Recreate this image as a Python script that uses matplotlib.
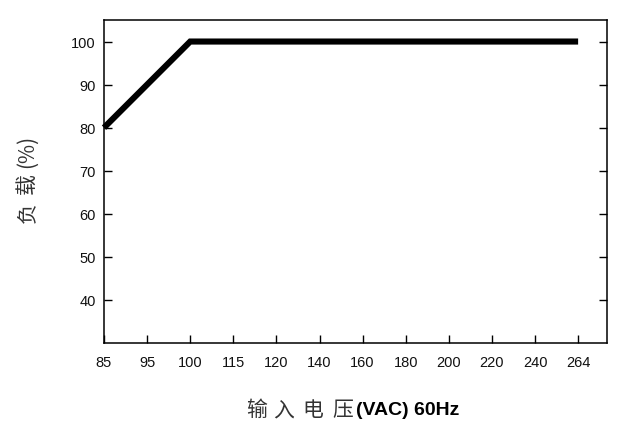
import matplotlib
matplotlib.use("Agg")
import matplotlib.pyplot as plt

x_labels = ["85", "95", "100", "115", "120", "140", "160", "180", "200", "220", "240", "264"]
load = [80, None, 100, 100, 100, 100, 100, 100, 100, 100, 100, 100]
y_ticks = [40, 50, 60, 70, 80, 90, 100]
ylabel_parts = ["负", "载", "(%)"]
xlabel_cjk = ["输", "入", "电", "压"]
xlabel_latin = "(VAC) 60Hz"

W, H = 626, 431
fig = plt.figure(figsize=(W/100, H/100), dpi=100)
ax = fig.add_axes([104/W, 1 - 344/H, (607-104)/W, (344-21)/H])

pts = [(i, v) for i, v in enumerate(load) if v is not None]
ax.plot([p[0] for p in pts], [p[1] for p in pts], color="black", lw=4.4,
        solid_capstyle="butt", solid_joinstyle="miter", clip_on=False)

ax.set_xlim(0, 11.67)
ax.set_ylim(30, 105)
ax.set_xticks(range(len(x_labels)))
ax.set_xticklabels(x_labels)
ax.set_yticks(y_ticks)
ax.tick_params(axis="both", direction="in", length=6, width=1, labelsize=10.5, colors="black")
ax.tick_params(axis="y", right=True, pad=6)
ax.tick_params(axis="x", pad=9)
for lab in ax.get_xticklabels() + ax.get_yticklabels():
    lab.set_fontfamily("Liberation Sans")
    lab.set_color("#111111")
for s in ax.spines.values():
    s.set_linewidth(1.1)

cjk = dict(family=["Noto Sans CJK SC", "DejaVu Sans"], fontweight="light", color="#333333")
# y label pieces (rotated)
for txt, yc in zip(ylabel_parts, [213, 184, 151]):
    fig.text(27/W, 1 - yc/H, txt, rotation=90, ha="center", va="center",
             fontsize=15, **cjk)

# x label pieces
for txt, xc in zip(xlabel_cjk, [257, 284, 313, 343]):
    fig.text(xc/W, 1 - 410/H, txt, ha="center", va="center", fontsize=15, **cjk)
fig.text(356/W, 1 - 411/H, xlabel_latin, ha="left", va="center", fontsize=14,
         family="Liberation Sans", fontweight="bold", color="black")

fig.savefig("out.png", dpi=100)
